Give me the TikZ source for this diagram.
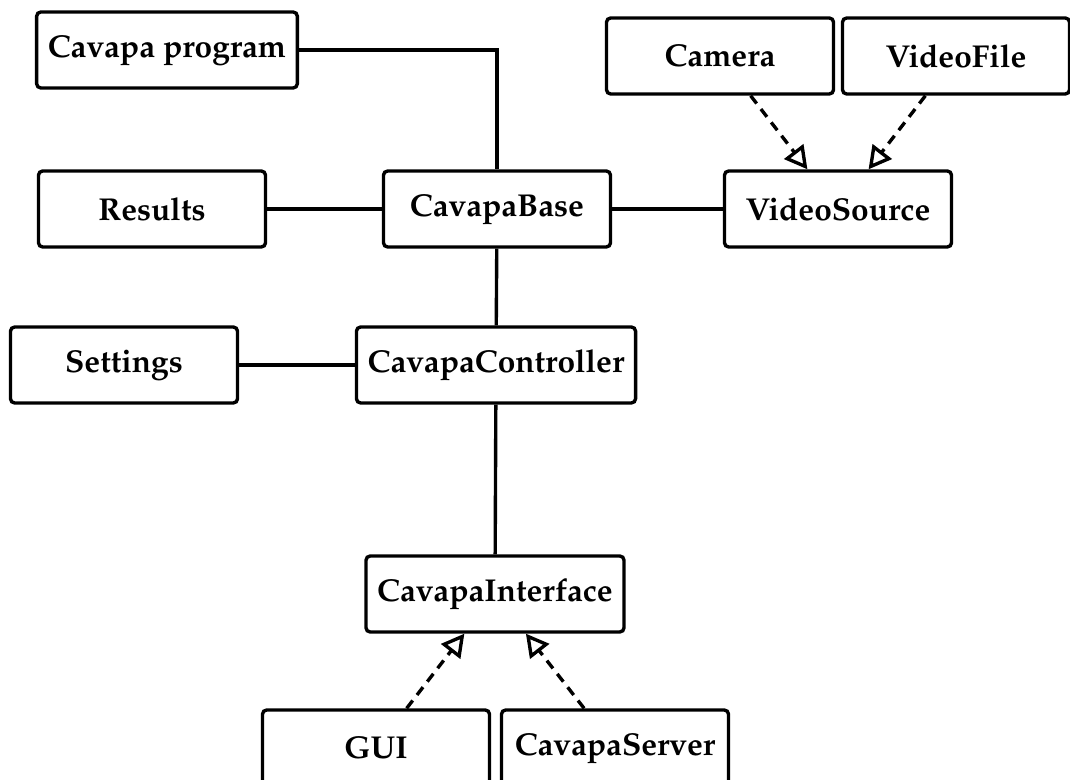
\documentclass[tikz,border=0pt]{standalone}
\usepackage[T1]{fontenc}
\usepackage{mathpazo}
\usetikzlibrary{arrows.meta}

\tikzset{
  cls/.style={draw, line width=2.4pt, rounded corners=3pt, fill=white,
    minimum width=5.675cm, minimum height=1.9cm, inner xsep=8pt,
    font=\fontsize{22.5}{26}\selectfont\bfseries},
  assoc/.style={line width=2.4pt},
  impl/.style={line width=2.4pt, dash pattern=on 7pt off 5pt,
    -{Triangle[open, length=16pt, width=17pt, line width=2.4pt]}}
}

\begin{document}
\begin{tikzpicture}[x=0.025cm, y=0.025cm]
    \useasboundingbox (0,0) rectangle (1070,780);
    \clip (0,0) rectangle (1070,780);

    % classes
    \node[cls] (prog) at (167,730) {Cavapa program};
    \node[cls] (camera) at (720,724) {Camera};
    \node[cls] (vfile) at (956,724) {VideoFile};
    \node[cls] (results) at (152,571) {Results};
    \node[cls] (base) at (497,571) {CavapaBase};
    \node[cls] (vsrc) at (838,571) {VideoSource};
    \node[cls] (settings) at (124,415) {Settings};
    \node[cls] (ctrl) at (496,415) {CavapaController};
    \node[cls] (iface) at (495,186) {CavapaInterface};
    \node[cls] (gui) at (376,32) {GUI};
    \node[cls] (server) at (615,32) {CavapaServer};

    % links
    \draw[assoc] (prog.east) -| (base.north);
    \draw[assoc] (results) -- (base);
    \draw[assoc] (base) -- (vsrc);
    \draw[assoc] (base) -- (ctrl);
    \draw[assoc] (settings) -- (ctrl);
    \draw[assoc] (ctrl) -- (iface);

    % realizations
    \foreach \from/\to in {camera/vsrc, vfile/vsrc, gui/iface, server/iface}
        \draw[impl] (\from) -- (\to);

\end{tikzpicture}
\end{document}
